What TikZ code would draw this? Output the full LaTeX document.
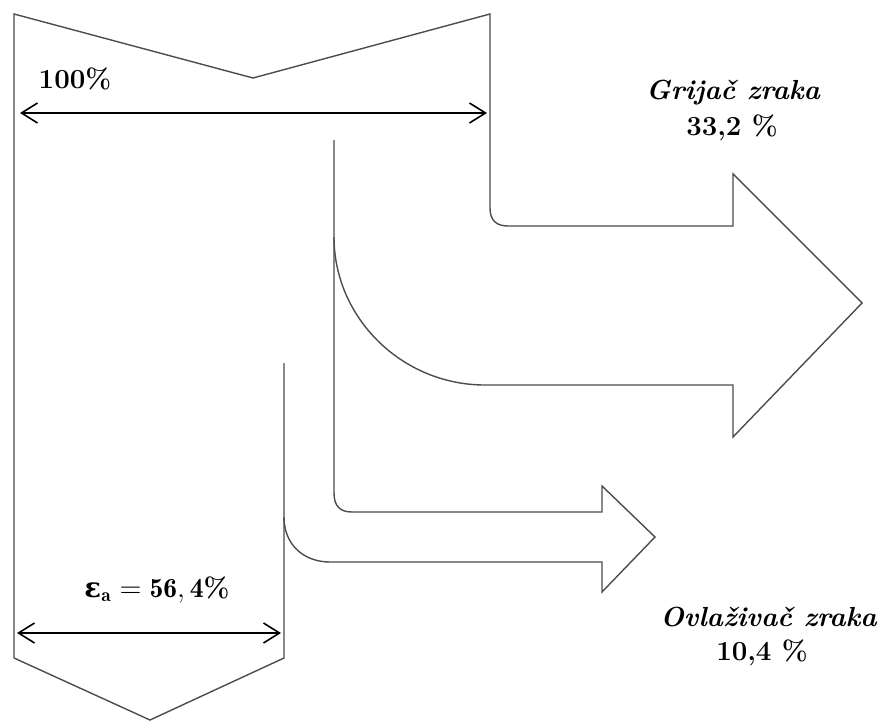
\documentclass[tikz,border=0pt]{standalone}
\usepackage{amsmath}
\usepackage{fontspec}
\newfontfamily\epsfont{DejaVu Serif}
\usetikzlibrary{positioning}
\usetikzlibrary{arrows.meta}
\usetikzlibrary{calc}

\begin{document}
\begin{tikzpicture}[x=0.5pt, y=-0.5pt,
    flow/.style={draw=black!70, line width=0.7pt},
    dimline/.style={draw=black, line width=0.8pt,
      {Straight Barb[length=8pt,width=10pt]}-{Straight Barb[length=8pt,width=10pt]}},
    lbl/.style={font=\fontsize{13.8}{16}\selectfont\bfseries, inner sep=0pt},
    lblit/.style={lbl, font=\fontsize{13.8}{16}\selectfont\bfseries\itshape}]
    % Fix the size of the page
    \useasboundingbox (0,0) rectangle (882,722);

    % Ends of the two width marks
    \coordinate (inL) at (20,113);
    \coordinate (inR) at (487,113);
    \coordinate (outL) at (17,633);
    \coordinate (outR) at (281,633);

    % Incoming flow and the heater branch
    \draw[flow] (14,658) -- (14,14) -- (253,78) -- (490,14) -- (490,208)
        .. controls (490,221) and (497,226) .. (508,226) -- (733,226) -- (733,174)
        -- (862,303) -- (733,437) -- (733,385) -- (485,385)
        .. controls (402,385) and (334,318) .. (334,237);

    % Humidifier branch
    \draw[flow] (334,140) -- (334,493)
        .. controls (334,506) and (340,512) .. (352,512) -- (602,512) -- (602,486)
        -- (655,537) -- (602,592) -- (602,562) -- (330,562)
        .. controls (304,562) and (284,545) .. (284,517);

    % Useful part leaving at the bottom
    \draw[flow] (284,363) -- (284,658) -- (150,720) -- (14,658);

    % Width marks
    \draw[dimline] (inL) -- (inR);
    \draw[dimline] (outL) -- (outR);

    \node[lbl] (total) at (75,79) {100\%};
    \node[lblit] (heater) at (733,93) {Grijač zraka};
    \node[lbl] (heatval) at (732,128) {33,2 \%};
    \node[lblit, anchor=east] (humid) at (877,617) {Ovlaživač zraka};
    \node[lbl] (humval) at (762,653) {10,4 \%};
    \node[lbl] (eff) at (157,590) {{\epsfont ε}$_{\mathbf{a}} = \mathbf{56,4}$\%};
\end{tikzpicture}
\end{document}
